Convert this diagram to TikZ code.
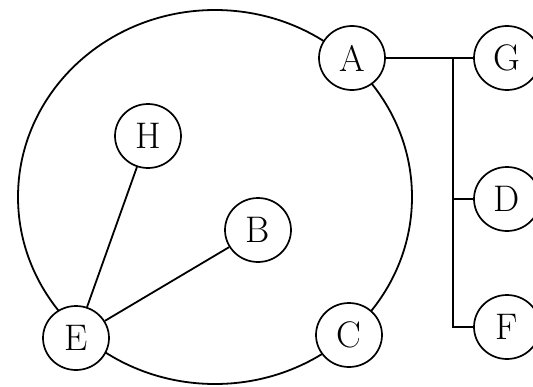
\documentclass[tikz,border=0pt]{standalone}
\usetikzlibrary{shapes.geometric}
\begin{document}
\begin{tikzpicture}[x=1pt,y=-1pt,
  vtx/.style={draw, ellipse, fill=white, line width=1.7pt, minimum width=66pt, minimum height=64pt, inner sep=0pt, font=\fontsize{37}{37}\selectfont},
  edge/.style={line width=1.8pt}]
\useasboundingbox (0,0) rectangle (533,386);
% outer ring through A, C, E
\draw[edge] (215,197) ellipse [x radius=197, y radius=187];
\node[vtx] (A) at (352,58) {A};
\node[vtx] (C) at (349,335) {C};
\node[vtx] (E) at (76,338) {E};
\node[vtx] (H) at (148,136) {H};
\node[vtx] (B) at (258,230) {B};
\node[vtx] (G) at (507,58) {G};
\node[vtx] (D) at (507,199) {D};
\node[vtx] (F) at (507,327) {F};
\coordinate (J) at (453,58);
\draw[edge] (H) -- (E);
\draw[edge] (B) -- (E);
\draw[edge] (A) -- (G);
\draw[edge] (J) |- (F);
\draw[edge] (J |- D) -- (D);
\end{tikzpicture}
\end{document}
